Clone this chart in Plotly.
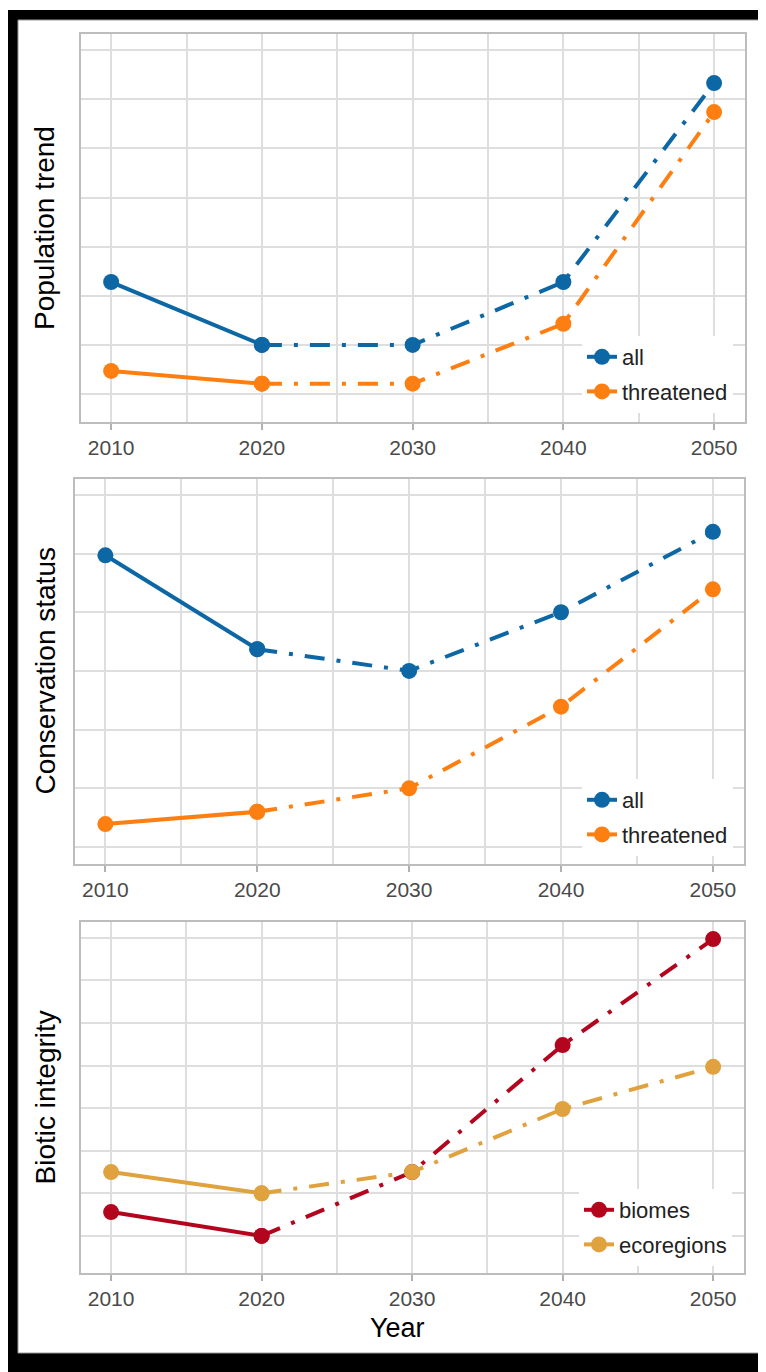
import plotly.graph_objects as go

W, H = 766, 1372
OX, OY = 8, 8  # page body margin offset

years = [2010, 2020, 2030, 2040, 2050]

pop_all = [2.28, 1.0, 1.0, 2.28, 6.33]
pop_threatened = [0.47, 0.21, 0.21, 1.43, 5.74]

cons_all = [4.97, 3.37, 3.0, 4.0, 5.37]
cons_threatened = [0.39, 0.60, 1.0, 2.39, 4.39]

bio_biomes = [0.56, 0.0, 1.5, 4.48, 6.97]
bio_ecoregions = [1.5, 1.0, 1.5, 2.98, 3.97]

titles = ["Population trend", "Conservation status", "Biotic integrity"]
tick_years = [2010, 2020, 2030, 2040, 2050]

BLUE = "#0d67a5"
ORANGE = "#fd7f12"
RED = "#b3061e"
GOLD = "#e0a23e"

FONT = "Arial, Liberation Sans, sans-serif"
DASH = "20px,12px,4px,12px"


def px_x(p):
    return (p - OX) / W


def px_y(p):
    return 1 - (p - OY) / H


panels = [
    dict(x=(81, 745), y=(34, 422), yr=(-0.57, 7.33), series=[("all", pop_all, BLUE), ("threatened", pop_threatened, ORANGE)], leg=(582, 336)),
    dict(x=(75, 744), y=(479, 864), yr=(-0.29, 6.27), series=[("all", cons_all, BLUE), ("threatened", cons_threatened, ORANGE)], leg=(582, 779)),
    dict(x=(81, 744), y=(922, 1273), yr=(-0.87, 7.37), series=[("biomes", bio_biomes, RED), ("ecoregions", bio_ecoregions, GOLD)], leg=(579, 1189)),
]

fig = go.Figure()
layout = {}
for i, p in enumerate(panels):
    n = i + 1
    xa = "x" if n == 1 else f"x{n}"
    ya = "y" if n == 1 else f"y{n}"
    legname = "legend" if n == 1 else f"legend{n}"
    for name, vals, col in p["series"]:
        grp = f"{legname}_{name}"
        fig.add_trace(go.Scatter(
            x=years[:2], y=vals[:2], mode="lines+markers", name=name, legendgroup=grp,
            line=dict(color=col, width=4), marker=dict(size=16, color=col),
            xaxis=xa, yaxis=ya, legend=legname, showlegend=True, hoverinfo="skip"))
        fig.add_trace(go.Scatter(
            x=years[1:], y=vals[1:], mode="lines+markers", name=name, legendgroup=grp,
            line=dict(color=col, width=4, dash=DASH), marker=dict(size=16, color=col),
            xaxis=xa, yaxis=ya, legend=legname, showlegend=False, hoverinfo="skip"))
    xkey = "xaxis" if n == 1 else f"xaxis{n}"
    ykey = "yaxis" if n == 1 else f"yaxis{n}"
    layout[xkey] = dict(
        domain=[px_x(p["x"][0]), px_x(p["x"][1])], anchor=ya,
        range=[2008.0, 2052.05], tickvals=tick_years, ticks="outside", ticklen=6,
        tickcolor="#b0b0b0", tickwidth=1.5,
        tickfont=dict(family=FONT, size=21, color="#4a4a4a"),
        showgrid=True, gridcolor="#dedede", gridwidth=1.5,
        minor=dict(dtick=5, tick0=2010, showgrid=True, gridcolor="#dedede", gridwidth=1.5, ticks=""),
        showline=True, linecolor="#bdbdbd", linewidth=1.5, mirror=True, zeroline=False,
    )
    layout[ykey] = dict(
        domain=[px_y(p["y"][1]), px_y(p["y"][0])], anchor=xa,
        range=list(p["yr"]), dtick=1, tick0=0, showticklabels=False, ticks="",
        showgrid=True, gridcolor="#dedede", gridwidth=1.5,
        showline=True, linecolor="#bdbdbd", linewidth=1.5, mirror=True, zeroline=False,
    )
    layout[legname] = dict(
        x=px_x(p["leg"][0]), y=px_y(p["leg"][1]), xanchor="left", yanchor="top",
        xref="paper", yref="paper", bgcolor="white", borderwidth=0,
        font=dict(family=FONT, size=22, color="#222222"), itemwidth=30,
        traceorder="grouped", tracegroupgap=3,
    )

annotations = []
for i, p in enumerate(panels):
    cy = (p["y"][0] + p["y"][1]) / 2
    annotations.append(dict(
        text=titles[i], x=px_x(45), y=px_y(cy), xref="paper", yref="paper",
        xanchor="center", yanchor="middle", textangle=-90, showarrow=False,
        font=dict(family=FONT, size=28, color="black")))
annotations.append(dict(
    text="Year", x=px_x(397), y=px_y(1328), xref="paper", yref="paper",
    xanchor="center", yanchor="middle", showarrow=False,
    font=dict(family=FONT, size=27, color="black")))

shapes = [
    dict(type="rect", xref="paper", yref="paper", x0=px_x(8), x1=px_x(790), y0=px_y(1400), y1=px_y(10),
         fillcolor="black", line=dict(width=0), layer="below"),
    dict(type="rect", xref="paper", yref="paper", x0=px_x(18), x1=px_x(759), y0=px_y(1353), y1=px_y(20),
         fillcolor="white", line=dict(width=1, color="#9a9a9a"), layer="below"),
]

fig.update_layout(
    width=W, height=H, margin=dict(l=0, r=0, t=0, b=0),
    paper_bgcolor="white", plot_bgcolor="white",
    annotations=annotations, shapes=shapes, **layout,
)

fig.write_html("out.html")
